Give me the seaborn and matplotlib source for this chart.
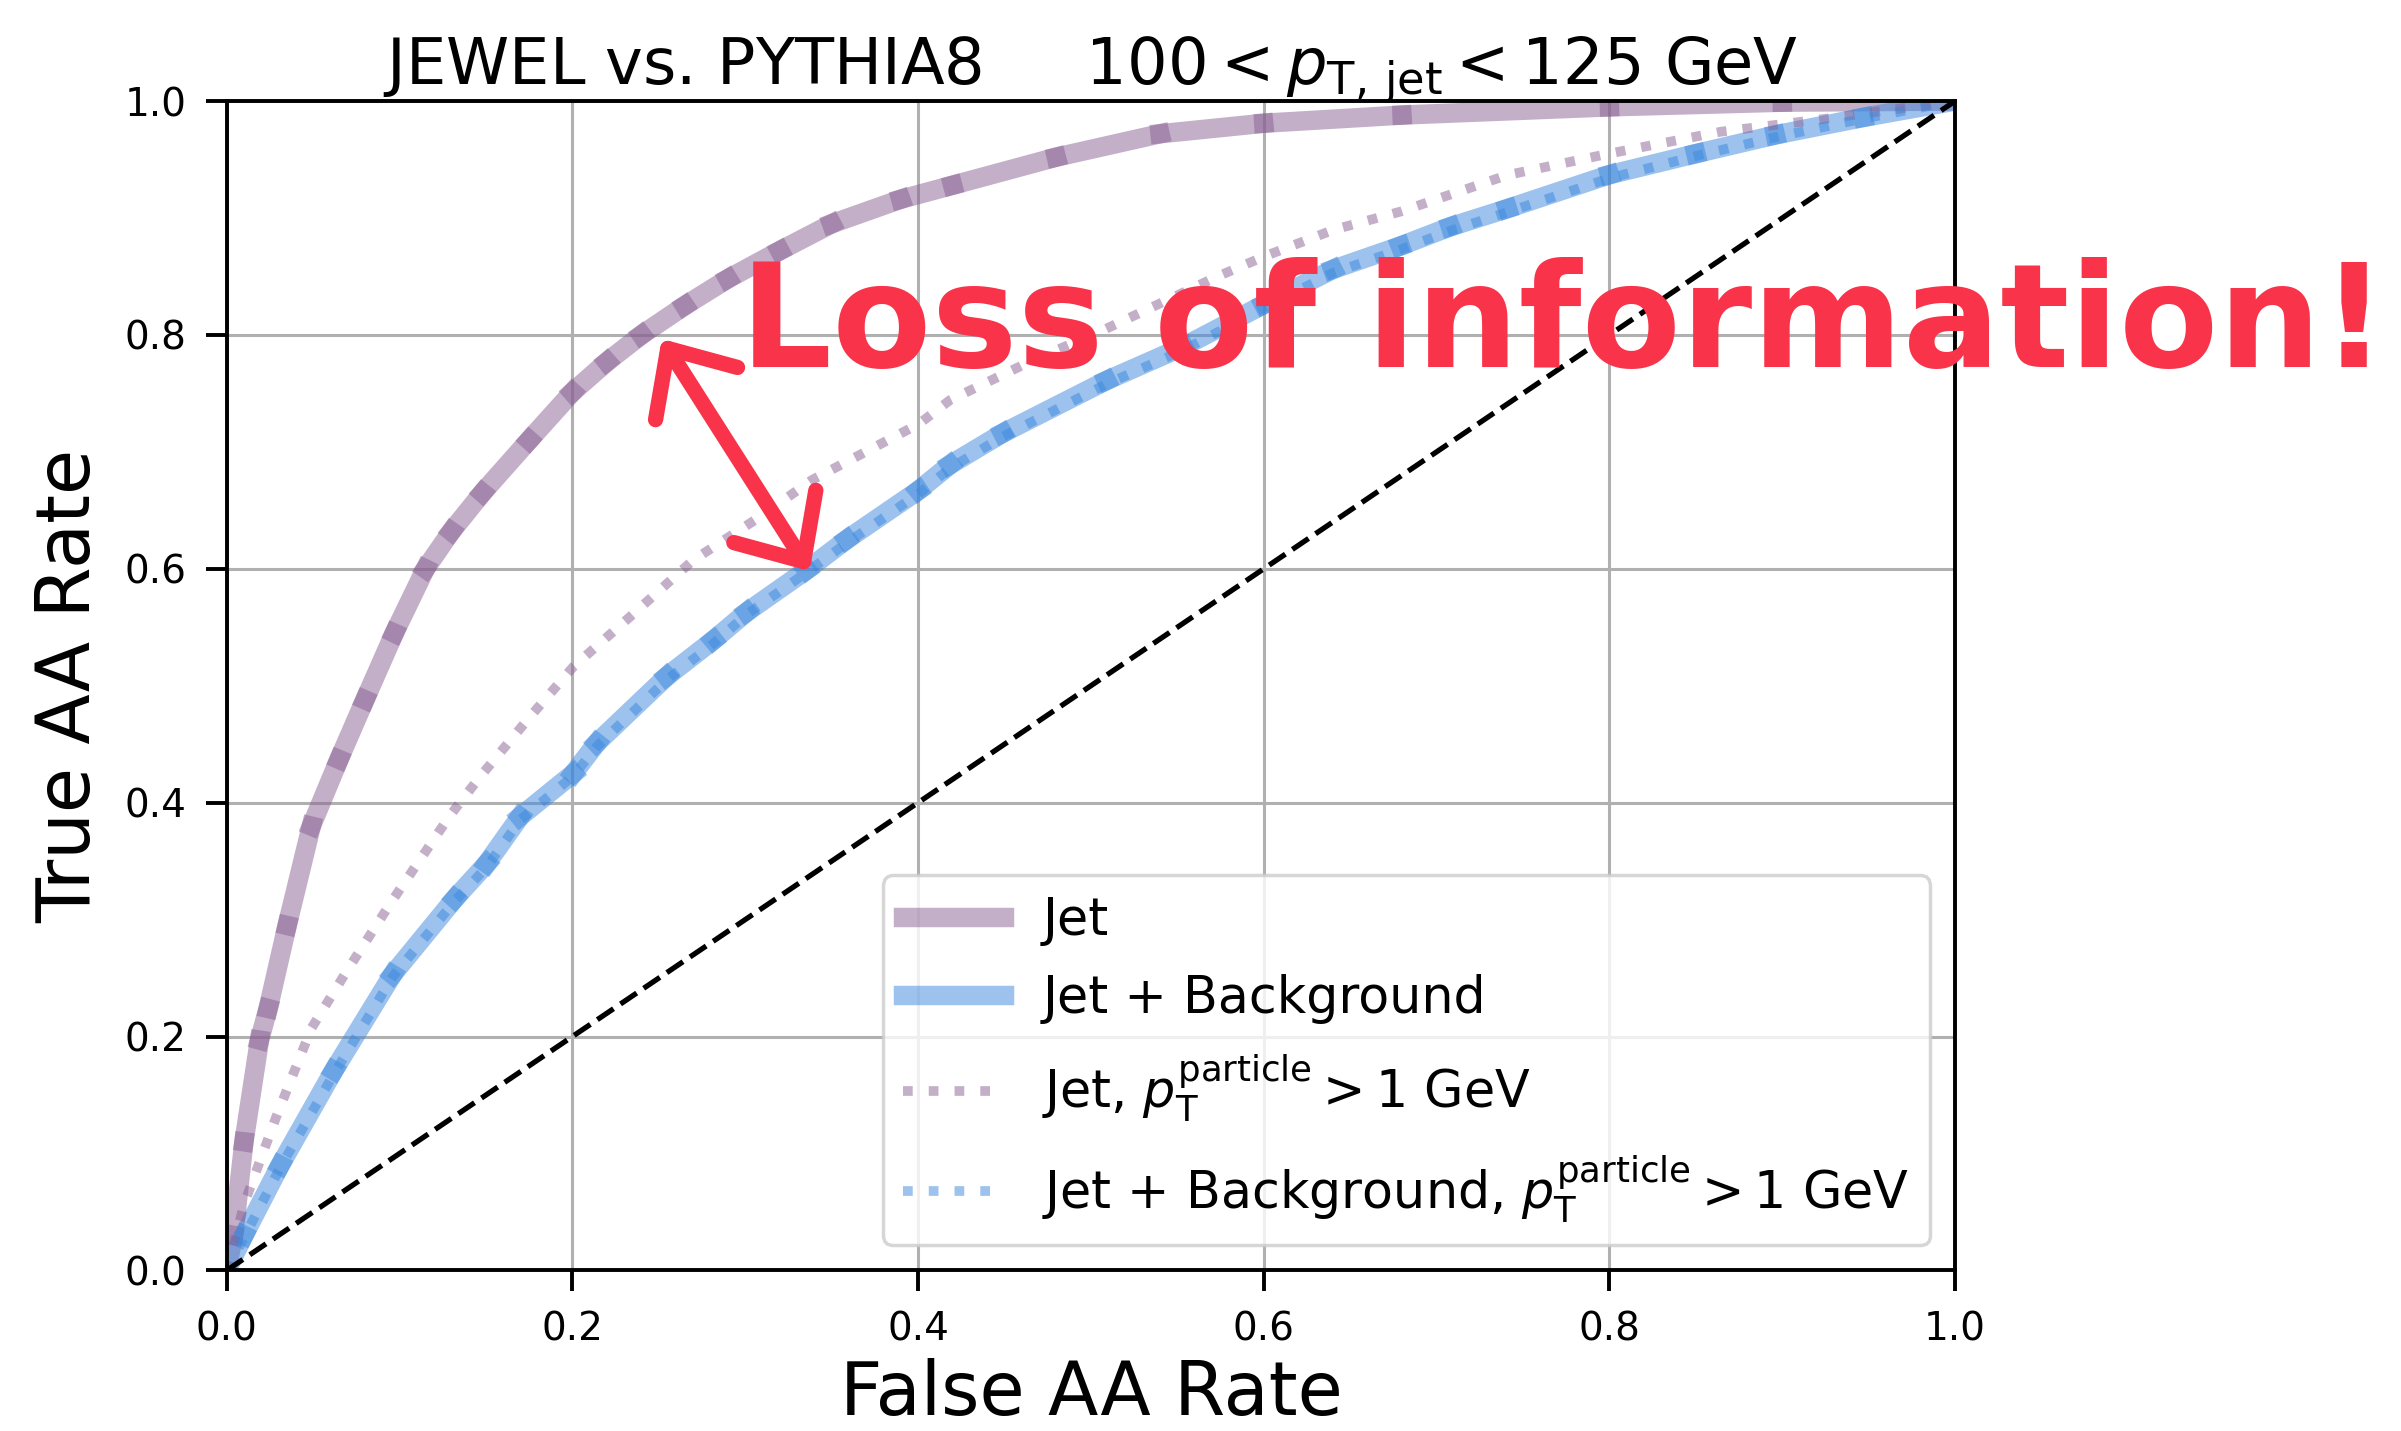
import matplotlib
matplotlib.use("Agg")
import matplotlib.pyplot as plt
import seaborn as sns

# ROC curves: false AA rate (x) against true AA rate (y)
jet_fpr = [0, 0.004, 0.01, 0.019, 0.024, 0.035, 0.049, 0.065, 0.08, 0.097, 0.115,
           0.13, 0.148, 0.175, 0.2, 0.22, 0.24, 0.265, 0.29, 0.32, 0.35, 0.39,
           0.42, 0.48, 0.54, 0.6, 0.68, 0.8, 0.9, 1.0]
jet_tpr = [0, 0.03, 0.11, 0.197, 0.224, 0.295, 0.38, 0.437, 0.488, 0.545, 0.60,
           0.632, 0.665, 0.71, 0.751, 0.777, 0.80, 0.825, 0.848, 0.872, 0.895, 0.916,
           0.928, 0.952, 0.972, 0.981, 0.988, 0.995, 0.999, 1.0]

bkg_fpr = [0, 0.01, 0.031, 0.062, 0.096, 0.132, 0.1505, 0.1697, 0.2006, 0.2141,
           0.2546, 0.2816, 0.3009, 0.3356, 0.3587, 0.4002, 0.4185, 0.449, 0.509,
           0.5535, 0.6, 0.64, 0.679, 0.708, 0.741, 0.8, 0.85, 0.896, 0.947, 1.0]
bkg_tpr = [0, 0.03, 0.09, 0.171, 0.253, 0.318, 0.348, 0.388, 0.425, 0.451,
           0.508, 0.539, 0.563, 0.599, 0.625, 0.667, 0.689, 0.716, 0.761,
           0.790, 0.826, 0.856, 0.876, 0.8925, 0.908, 0.937, 0.955, 0.971, 0.986, 1.0]

jet_cut_fpr = [0, 0.0104, 0.0286, 0.049, 0.0697, 0.0957, 0.129, 0.1466, 0.1755,
               0.2006, 0.2334, 0.27, 0.3086, 0.3387, 0.4006, 0.4185, 0.4667, 0.507,
               0.5728, 0.6, 0.64, 0.679, 0.741, 0.8007, 0.8646, 0.927, 1.0]
jet_cut_tpr = [0, 0.058, 0.131, 0.207, 0.2565, 0.316, 0.3886, 0.4222, 0.4735,
               0.5163, 0.559, 0.6075, 0.6445, 0.676, 0.724, 0.7443, 0.7785, 0.804,
               0.8497, 0.8669, 0.8897, 0.9054, 0.9367, 0.9553, 0.9738, 0.9852, 1.0]

bkg_cut_fpr = [0, 0.01, 0.031, 0.062, 0.096, 0.132, 0.1505, 0.1697, 0.2006, 0.2141,
               0.2546, 0.2816, 0.3009, 0.3356, 0.3587, 0.4002, 0.4185, 0.449, 0.509,
               0.5535, 0.6, 0.64, 0.679, 0.708, 0.741, 0.8, 0.85, 0.896, 0.947, 1.0]
bkg_cut_tpr = [0, 0.028, 0.088, 0.168, 0.251, 0.316, 0.345, 0.385, 0.423, 0.448,
               0.505, 0.536, 0.561, 0.597, 0.622, 0.664, 0.686, 0.713, 0.758,
               0.787, 0.823, 0.853, 0.873, 0.889, 0.905, 0.934, 0.953, 0.969, 0.985, 1.0]

chance = [0, 1]
ticks = [0.0, 0.2, 0.4, 0.6, 0.8, 1.0]

labels = ["Jet",
          "Jet + Background",
          r"Jet, $p_\mathrm{T}^\mathrm{particle} > 1$ GeV",
          r"Jet + Background, $p_\mathrm{T}^\mathrm{particle} > 1$ GeV"]

title = r"JEWEL vs. PYTHIA8     $100 < p_{\mathrm{T,\,jet}} < 125$ GeV"
note = "Loss of information!"

purple = "#896193"
blue = "#3B87DD"
red = "#F8334A"

sns.set_style("white")
plt.rcParams["font.family"] = ["DejaVu Sans"]
plt.rcParams["mathtext.fontset"] = "dejavusans"
for key in ("text.color", "axes.labelcolor", "xtick.color", "ytick.color"):
    plt.rcParams[key] = "black"

fig = plt.figure(figsize=(24.01, 14.31), dpi=100)
ax = fig.add_axes([0.0944, 0.1122, 0.7199, 0.8172])


def pieces(x, y, color, label):
    """Thick translucent curve drawn piece by piece."""
    for i in range(len(x) - 1):
        sns.lineplot(x=x[i:i + 2], y=y[i:i + 2], ax=ax, color=color, alpha=0.5,
                     linewidth=14, solid_capstyle="projecting", sort=False,
                     label=label if i == 0 else "_nolegend_")


pieces(jet_fpr, jet_tpr, purple, labels[0])
pieces(bkg_fpr, bkg_tpr, blue, labels[1])
sns.lineplot(x=jet_cut_fpr, y=jet_cut_tpr, ax=ax, color=purple, alpha=0.5,
             linewidth=7, linestyle=":", sort=False, label=labels[2])
sns.lineplot(x=bkg_cut_fpr, y=bkg_cut_tpr, ax=ax, color=blue, alpha=0.5,
             linewidth=7, linestyle=":", sort=False, label=labels[3])
sns.lineplot(x=chance, y=chance, ax=ax, color="black", linewidth=3.8,
             linestyle="--", sort=False, label="_nolegend_")

ax.set_xlim(0, 1)
ax.set_ylim(0, 1)
ax.set_xticks(ticks)
ax.set_yticks(ticks)
ax.set_xticklabels([f"{t:.1f}" for t in ticks])
ax.set_yticklabels([f"{t:.1f}" for t in ticks])
ax.tick_params(axis="both", labelsize=28, length=15, width=2.8, pad=14,
               direction="out", color="black", labelcolor="black",
               bottom=True, left=True)
ax.set_axisbelow(True)
ax.grid(True, color="#b0b0b0", linewidth=2.2)
for sp in ax.spines.values():
    sp.set_visible(True)
    sp.set_color("black")
    sp.set_linewidth(2.8)

ax.set_xlabel("False AA Rate", fontsize=53, labelpad=7, color="black")
ax.set_ylabel("True AA Rate", fontsize=53, labelpad=13, color="black")
ax.set_title(title, fontsize=46, pad=12, color="black")

handles, hl = ax.get_legend_handles_labels()
order = [hl.index(l) for l in labels]
leg = ax.legend([handles[i] for i in order], [hl[i] for i in order],
                loc="lower right", fontsize=36.5, handlelength=2.0,
                handletextpad=0.75, borderpad=0.4, labelspacing=0.56,
                borderaxespad=0.5, framealpha=0.8, edgecolor="0.8", fancybox=True)
leg.get_frame().set_linewidth(2.5)
for t in leg.get_texts():
    t.set_color("black")

# hand-drawn style remark: double arrow between the two solid curves
ax.annotate("", xy=(0.2517, 0.7966), xytext=(0.3373, 0.598),
            arrowprops=dict(arrowstyle="<->,head_length=0.55,head_width=0.5",
                            color=red, lw=11, mutation_scale=70, shrinkA=0,
                            shrinkB=0, capstyle="round", joinstyle="round"),
            zorder=6)
ax.text(0.297, 0.7726, note, color=red, fontsize=104, fontweight="bold",
        ha="left", va="baseline", clip_on=False, zorder=6)

fig.savefig("out.png", dpi=100)
